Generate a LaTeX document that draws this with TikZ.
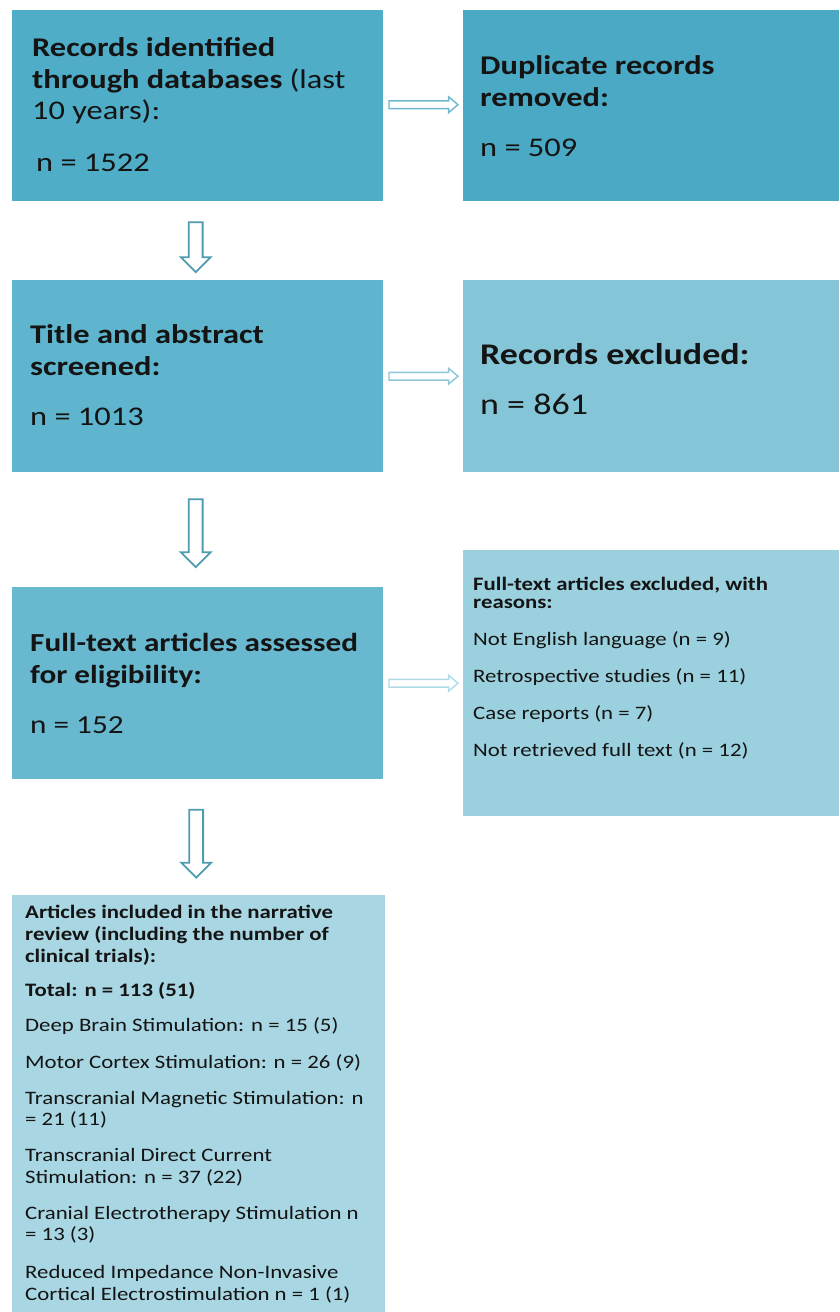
\documentclass[tikz,border=0pt]{standalone}
\usepackage{fontspec}
\setmainfont{Carlito}[FakeStretch=1.2]
\usetikzlibrary{shapes.arrows,calc}
\definecolor{cA}{HTML}{4FADC7}
\definecolor{cB}{HTML}{4AA9C4}
\definecolor{cC}{HTML}{5EB5CD}
\definecolor{cD}{HTML}{84C6D7}
\definecolor{cE}{HTML}{68B9CF}
\definecolor{cF}{HTML}{9BD0DF}
\definecolor{cG}{HTML}{A8D6E2}
\definecolor{arrH1}{HTML}{6FB7CC}
\definecolor{arrH2}{HTML}{8CC6D8}
\definecolor{arrH3}{HTML}{B0DAE6}
\definecolor{arrV}{HTML}{4F9BAF}
\definecolor{ink}{HTML}{141414}
\begin{document}
\begin{tikzpicture}[x=1pt,y=-1pt,
  box/.style={rectangle, draw=none, anchor=north west, inner sep=0pt},
  txt/.style={anchor=base west, inner sep=0pt, align=left, text=ink},
  bigtxt/.style={txt, font=\fontsize{27}{31.5}\selectfont},
  harrow/.style={single arrow, draw, fill=white, line width=1.4pt,
    minimum height=69pt, minimum width=15pt, inner sep=3.2pt,
    single arrow head extend=4pt, single arrow tip angle=80},
  varrow/.style={single arrow, draw=arrV, fill=white, line width=1.8pt,
    shape border rotate=270, minimum width=28pt, inner sep=6pt,
    single arrow head extend=8pt, single arrow tip angle=90}
]
\useasboundingbox (0,0) rectangle (839,1312);

% boxes
\node[box, fill=cA, minimum width=371pt, minimum height=191pt] (b1) at (12,10) {};
\node[box, fill=cB, minimum width=376pt, minimum height=191pt] (b2) at (463,10) {};
\node[box, fill=cC, minimum width=371pt, minimum height=192pt] (b3) at (12,280) {};
\node[box, fill=cD, minimum width=376pt, minimum height=192pt] (b4) at (463,280) {};
\node[box, fill=cE, minimum width=371pt, minimum height=192pt] (b5) at (12,587) {};
\node[box, fill=cF, minimum width=376pt, minimum height=266pt] (b6) at (463,550) {};
\node[box, fill=cG, minimum width=373pt, minimum height=417pt] (b7) at (12,895) {};

% texts (anchored at the baseline of their last line)
\node[bigtxt] (t1) at (32,171) {\textbf{Records identified}\\\textbf{through databases} (last\\10 years):\\[20pt]\hspace*{4pt}n = 1522};
\node[bigtxt] (t2) at (480,156) {\textbf{Duplicate records}\\\textbf{removed:}\\[18.5pt]n = 509};
\node[bigtxt] (t3) at (30,425) {\textbf{Title and abstract}\\\textbf{screened:}\\[18.5pt]n = 1013};
\node[txt, font=\fontsize{30}{31.5}\selectfont] (t4) at (480,414) {\textbf{Records excluded:}\\[18.5pt]n = 861};
\node[txt, font=\fontsize{26}{31.5}\selectfont] (t5) at (30,733) {\textbf{Full-text articles assessed}\\\textbf{for eligibility:}\\[18.5pt]n = 152};
\node[txt, font=\fontsize{19}{18}\selectfont] (t6) at (473,756)
  {\textbf{Full-text articles excluded, with}\\\textbf{reasons:}\\[19pt]
   Not English language (n = 9)\\[18.7pt]
   Retrospective studies (n = 11)\\[18.7pt]
   Case reports (n = 7)\\[18.7pt]
   Not retrieved full text (n = 12)};
\node[txt, font=\fontsize{19}{22}\selectfont] (t7) at (25,1300)
  {\textbf{Articles included in the narrative}\\
   \textbf{review (including the number of}\\
   \textbf{clinical trials):}\\[12pt]
   \textbf{Total: n = 113 (51)}\\[13pt]
   Deep Brain Stimulation: n = 15 (5)\\[15pt]
   Motor Cortex Stimulation: n = 26 (9)\\[14pt]
   Transcranial Magnetic Stimulation: n\\[-1pt]
   = 21 (11)\\[14pt]
   Transcranial Direct Current\\
   Stimulation: n = 37 (22)\\[14pt]
   Cranial Electrotherapy Stimulation n\\[-1pt]
   = 13 (3)\\[16pt]
   Reduced Impedance Non-Invasive\\
   Cortical Electrostimulation n = 1 (1)};

% horizontal arrows
\node[harrow, draw=arrH1] (h1) at ($(b1.east)!0.5!(b2.west)+(-2,-1)$) {};
\node[harrow, draw=arrH2] (h2) at ($(b3.east)!0.5!(b4.west)+(-2,0)$) {};
\node[harrow, draw=arrH3] (h3) at ($(b5.east)!0.5!(b6.west)+(-2,0)$) {};

% vertical arrows
\node[varrow, minimum height=50pt] (v1) at ($(b1.south)!0.5!(b3.north)+(-2,3)$) {};
\node[varrow, minimum height=68pt] (v2) at ($(b3.south)!0.5!(b5.north)+(-2,0)$) {};
\node[varrow, minimum height=68pt] (v3) at ($(b5.south)!0.5!(b7.north)+(-2,3)$) {};
\end{tikzpicture}
\end{document}
